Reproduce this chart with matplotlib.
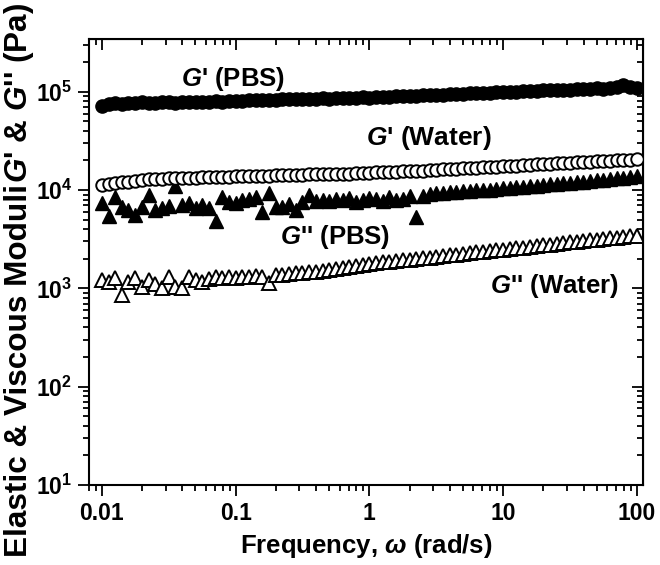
import matplotlib
matplotlib.use("Agg")
import matplotlib.pyplot as plt
from matplotlib.ticker import LogLocator, NullFormatter

plt.rcParams['font.family'] = ['Liberation Sans', 'DejaVu Sans']
plt.rcParams['font.weight'] = 'bold'
plt.rcParams['mathtext.fontset'] = 'custom'
plt.rcParams['mathtext.rm'] = 'Liberation Sans:bold'
plt.rcParams['mathtext.bf'] = 'Liberation Sans:bold'
plt.rcParams['mathtext.it'] = 'Liberation Sans:bold:italic'

# Frequency (rad/s), 20 points per decade
freq = [
    0.01, 0.0112, 0.0126, 0.0141, 0.0158, 0.0178, 0.02, 0.0224, 0.0251, 0.0282,
    0.0316, 0.0355, 0.0398, 0.0447, 0.0501, 0.0562, 0.0631, 0.0708, 0.0794, 0.0891,
    0.1, 0.112, 0.126, 0.141, 0.158, 0.178, 0.2, 0.224, 0.251, 0.282,
    0.316, 0.355, 0.398, 0.447, 0.501, 0.562, 0.631, 0.708, 0.794, 0.891,
    1.0, 1.12, 1.26, 1.41, 1.58, 1.78, 2.0, 2.24, 2.51, 2.82,
    3.16, 3.55, 3.98, 4.47, 5.01, 5.62, 6.31, 7.08, 7.94, 8.91,
    10.0, 11.2, 12.6, 14.1, 15.8, 17.8, 20.0, 22.4, 25.1, 28.2,
    31.6, 35.5, 39.8, 44.7, 50.1, 56.2, 63.1, 70.8, 79.4, 89.1,
    100.0,
]

g1_pbs = [
    72000, 75000, 76000, 75500, 77000, 76500, 78000, 77000, 76500, 78500,
    78000, 77500, 79000, 78500, 78000, 79500, 79000, 80000, 79500, 80500,
    80000, 81000, 82000, 81500, 82000, 83000, 82500, 83500, 84000, 83500,
    84500, 84000, 85000, 85500, 85000, 86000, 86500, 86000, 87000, 87500,
    87000, 88000, 88500, 89000, 89500, 90000, 90500, 91000, 92000, 92500,
    93000, 93500, 94000, 94500, 95500, 96000, 96500, 97000, 98000, 98500,
    99000, 99500, 100000, 101000, 101500, 102000, 103000, 103500, 104000, 104500,
    105000, 106000, 106500, 107000, 108000, 107500, 109000, 112000, 116000, 111000,
    109000,
]

g1_water = [
    11300, 11500, 11800, 12000, 12200, 12400, 12700, 12900, 13000, 13100,
    13200, 13300, 13300, 13400, 13400, 13500, 13500, 13600, 13600, 13700,
    13800, 13800, 13900, 13900, 14000, 14000, 14100, 14100, 14200, 14200,
    14300, 14400, 14400, 14500, 14500, 14600, 14700, 14700, 14800, 14900,
    15000, 15100, 15200, 15300, 15400, 15500, 15600, 15700, 15800, 16000,
    16100, 16200, 16300, 16400, 16600, 16700, 16800, 17000, 17100, 17300,
    17400, 17600, 17700, 17900, 18000, 18200, 18300, 18500, 18700, 18800,
    19000, 19200, 19300, 19500, 19600, 19800, 19900, 20100, 20200, 20400,
    20500,
]

g2_pbs = [
    7400, 5400, 8500, 6800, 6200, 5600, 6800, 8900, 6300, 6600,
    6900, 11000, 7100, 7400, 6600, 7100, 6600, 4800, 8500, 7600,
    7400, 7900, 8100, 8500, 6000, 9300, 6800, 6800, 7200, 6300,
    7600, 8900, 7800, 8000, 7700, 8200, 7900, 8300, 7500, 7900,
    8300, 8100, 7700, 8400, 8000, 8200, 8600, 5300, 8700, 9100,
    9300, 9400, 9500, 9600, 9700, 9800, 9900, 10000, 10100, 10300,
    10400, 10500, 10700, 10800, 10900, 11100, 11200, 11400, 11500, 11700,
    11900, 12000, 12200, 12400, 12600, 12800, 13000, 13200, 13400, 13700,
    14000,
]

g2_water = [
    1220, 1170, 1270, 860, 1170, 1270, 1040, 1220, 1100, 1000,
    1300, 1040, 1000, 1300, 1220, 1170, 1250, 1300, 1270, 1300,
    1270, 1320, 1300, 1340, 1320, 1130, 1360, 1380, 1400, 1420,
    1440, 1460, 1480, 1510, 1540, 1570, 1610, 1650, 1690, 1740,
    1780, 1810, 1840, 1870, 1900, 1930, 1960, 1990, 2020, 2060,
    2100, 2130, 2170, 2200, 2240, 2280, 2320, 2360, 2400, 2440,
    2480, 2520, 2560, 2600, 2650, 2700, 2740, 2790, 2840, 2880,
    2930, 2980, 3030, 3080, 3130, 3180, 3230, 3280, 3330, 3380,
    3430,
]

fig = plt.figure(figsize=(6.6, 5.65), dpi=100)
ax = fig.add_axes([0.1348, 0.1416, 0.974 - 0.1348, 0.931 - 0.1416])

ax.plot(freq, g2_water, linestyle='none', marker='^', markersize=10.5,
        markerfacecolor='white', markeredgecolor='black', markeredgewidth=1.4, zorder=2)
ax.plot(freq, g2_pbs, linestyle='none', marker='^', markersize=10.5,
        markerfacecolor='black', markeredgecolor='black', markeredgewidth=1.0, zorder=3)
ax.plot(freq, g1_water, linestyle='none', marker='o', markersize=9,
        markerfacecolor='white', markeredgecolor='black', markeredgewidth=1.4, zorder=4)
ax.plot(freq, g1_pbs, linestyle='none', marker='o', markersize=9.5,
        markerfacecolor='black', markeredgecolor='black', markeredgewidth=1.0, zorder=5)

ax.set_xscale('log')
ax.set_yscale('log')
ax.set_xlim(0.008, 111)
ax.set_ylim(10, 3.44e5)

ax.set_xticks([0.01, 0.1, 1, 10, 100])
ax.set_xticklabels(['0.01', '0.1', '1', '10', '100'])
ax.xaxis.set_minor_locator(LogLocator(base=10, subs=range(2, 10), numticks=20))
ax.xaxis.set_minor_formatter(NullFormatter())
ax.yaxis.set_major_locator(LogLocator(base=10, numticks=10))
ax.yaxis.set_minor_locator(LogLocator(base=10, subs=range(2, 10), numticks=20))
ax.yaxis.set_minor_formatter(NullFormatter())

for s in ax.spines.values():
    s.set_linewidth(1.5)

ax.tick_params(which='both', direction='out', top=False, right=False,
               width=1.3, labelsize=16.5, pad=4)
ax.tick_params(which='major', length=8)
ax.tick_params(which='minor', length=4.5)

# mirrored inward ticks on top/right
axt = ax.secondary_xaxis('top')
axt.set_xticks([0.01, 0.1, 1, 10, 100])
axt.xaxis.set_minor_locator(LogLocator(base=10, subs=range(2, 10), numticks=20))
axt.tick_params(which='both', direction='in', labeltop=False, width=1.3)
axt.tick_params(which='major', length=8)
axt.tick_params(which='minor', length=4.5)
axt.set_xticklabels([])
axr = ax.secondary_yaxis('right')
axr.yaxis.set_major_locator(LogLocator(base=10, numticks=10))
axr.yaxis.set_minor_locator(LogLocator(base=10, subs=range(2, 10), numticks=20))
axr.tick_params(which='both', direction='in', labelright=False, width=1.3)
axr.tick_params(which='major', length=8)
axr.tick_params(which='minor', length=4.5)

ax.set_xlabel(r'Frequency, $\omega$ (rad/s)', fontsize=18.5, fontweight='bold', labelpad=5)

# y label (two pieces that slightly overlap, as in the original)
fig.text(19 / 660, 1 - 557 / 565, 'Elastic & Viscous Moduli', rotation=90,
         fontsize=22.7, fontweight='bold', ha='center', va='bottom')
fig.text(19 / 660, 1 - 3 / 565, r"$G$' & $G$'' (Pa)", rotation=90,
         fontsize=22.7, fontweight='bold', ha='center', va='top')

ax.text(0.0388, 1.35e5, r"$G$' (PBS)", fontsize=18.5, fontweight='bold', ha='left', va='center')
ax.text(0.94, 3.35e4, r"$G$' (Water)", fontsize=19, fontweight='bold', ha='left', va='center')
ax.text(0.213, 3.33e3, r"$G$'' (PBS)", fontsize=18.5, fontweight='bold', ha='left', va='center')
ax.text(7.94, 1.045e3, r"$G$'' (Water)", fontsize=18.5, fontweight='bold', ha='left', va='center')

fig.savefig('out.png', dpi=100)
